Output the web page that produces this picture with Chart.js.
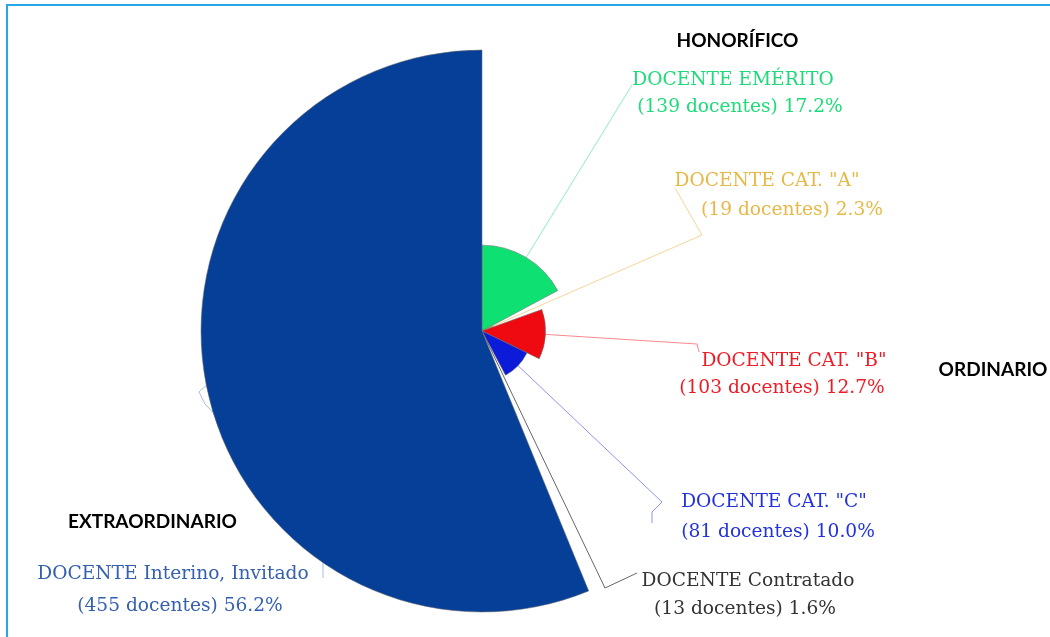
<!DOCTYPE html>
<html><head><meta charset="utf-8">
<script src="https://cdn.jsdelivr.net/npm/chart.js@4.4.1/dist/chart.umd.min.js"></script>
<style>
html,body{margin:0;padding:0;background:#fff;}
#wrap{position:relative;width:1050px;height:637px;overflow:hidden;background:#fff;}
#frame{position:absolute;left:6px;top:4px;width:1100px;height:700px;border-top:2px solid #25a9e6;border-left:2px solid #25a9e6;}
canvas{position:absolute;left:0;top:0;}
</style></head><body>
<div id="wrap"><div id="frame"></div><canvas id="c" width="1050" height="637"></canvas></div>
<script>
// ---- data ----
const categories = ['DOCENTE EMÉRITO', 'DOCENTE CAT. "A"', 'DOCENTE CAT. "B"', 'DOCENTE CAT. "C"', 'DOCENTE Contratado', 'DOCENTE Interino, Invitado'];
const counts = [139, 19, 103, 81, 13, 455];
const percentages = [17.2, 2.3, 12.7, 10.0, 1.6, 56.2];
const groupLabels = ['HONORÍFICO', 'ORDINARIO', 'EXTRAORDINARIO'];

// ---- styles ----
const sliceColors = ['#0ee072', '#f2c14e', '#ef0a12', '#0b1bd8', '#555555', '#053f98'];
const textColors = ['#1ddc78', '#e6b846', '#ef1c25', '#2233dd', '#333333', '#3560b0'];
const leaderColors = ['#8deebb', '#f3d69a', '#f68a8e', '#8c95ee', '#666666', '#a9bde3'];

const leaderPaths = [
  [[632, 85]],
  [[702, 235], [675, 188]],
  [[697, 344], [699, 352]],
  [[662, 502], [652, 512], [652, 523]],
  [[605, 588], [637, 573]],
  [[199, 392], [205, 404], [240, 440], [323, 563], [323, 578]]
];
const textPos = [
  [[733, 85], [740, 112]],
  [[767, 186], [792, 215]],
  [[794, 366], [782, 393]],
  [[774, 507], [778, 537]],
  [[748, 586], [745, 614]],
  [[173, 579], [180, 611]]
];
const textWidths = [[202, 200], [182, 179], [189, 220], [185, 190], [213, 179], [279, 200]];
const groupPos = [[737.5, 46.5], [993, 376], [152.5, 527.5]];
const groupWidths = [119, 110, 171];

function lines(i) {
  return [categories[i], '(' + counts[i] + ' docentes) ' + percentages[i].toFixed(1) + '%'];
}

const labelPlugin = {
  id: 'sliceLabels',
  beforeDatasetsDraw(chart) {
    const ctx = chart.ctx;
    const arcs = chart.getDatasetMeta(0).data;
    ctx.save();
    ctx.lineWidth = 1;
    arcs.forEach((arc, i) => {
      const p = arc.getProps(['x', 'y', 'startAngle', 'endAngle', 'outerRadius'], true);
      const mid = (p.startAngle + p.endAngle) / 2;
      const ax = p.x + Math.cos(mid) * p.outerRadius;
      const ay = p.y + Math.sin(mid) * p.outerRadius;
      ctx.strokeStyle = leaderColors[i];
      ctx.beginPath();
      ctx.moveTo(ax, ay);
      leaderPaths[i].forEach(pt => ctx.lineTo(pt[0], pt[1]));
      ctx.stroke();
    });
    ctx.restore();
  },
  afterDatasetsDraw(chart) {
    const ctx = chart.ctx;
    ctx.save();
    const fam = '"DejaVu Serif", serif';
    ctx.font = '20px ' + fam;
    let tw = 0, mw = 0;
    categories.forEach((c, i) => {
      lines(i).forEach((s, k) => { mw += ctx.measureText(s).width; tw += textWidths[i][k]; });
    });
    const size = 20 * tw / mw;
    ctx.font = size.toFixed(2) + 'px ' + fam;
    ctx.textAlign = 'center';
    ctx.textBaseline = 'alphabetic';
    categories.forEach((c, i) => {
      ctx.fillStyle = textColors[i];
      lines(i).forEach((s, k) => ctx.fillText(s, textPos[i][k][0], textPos[i][k][1]));
    });
    const gfam = 'Lato, "Open Sans", sans-serif';
    ctx.font = 'bold 20px ' + gfam;
    let gt = 0, gm = 0;
    groupLabels.forEach((g, i) => { gm += ctx.measureText(g).width; gt += groupWidths[i]; });
    const gsize = 20 * gt / gm;
    ctx.font = 'bold ' + gsize.toFixed(2) + 'px ' + gfam;
    ctx.fillStyle = '#000';
    groupLabels.forEach((g, i) => ctx.fillText(g, groupPos[i][0], groupPos[i][1]));
    ctx.restore();
  }
};

new Chart(document.getElementById('c'), {
  type: 'polarArea',
  data: {
    labels: categories,
    datasets: [{
      data: counts,
      backgroundColor: sliceColors,
      borderColor: 'rgba(110,110,110,0.55)',
      borderWidth: 1,
      angle: c => percentages[c.dataIndex] * 3.6
    }]
  },
  options: {
    responsive: false,
    animation: false,
    layout: { padding: { left: 201, right: 287, top: 50, bottom: 25 } },
    plugins: { legend: { display: false }, tooltip: { enabled: false } },
    scales: { r: { display: false, min: 0, max: 455 } }
  },
  plugins: [labelPlugin]
});
</script>
</body></html>
